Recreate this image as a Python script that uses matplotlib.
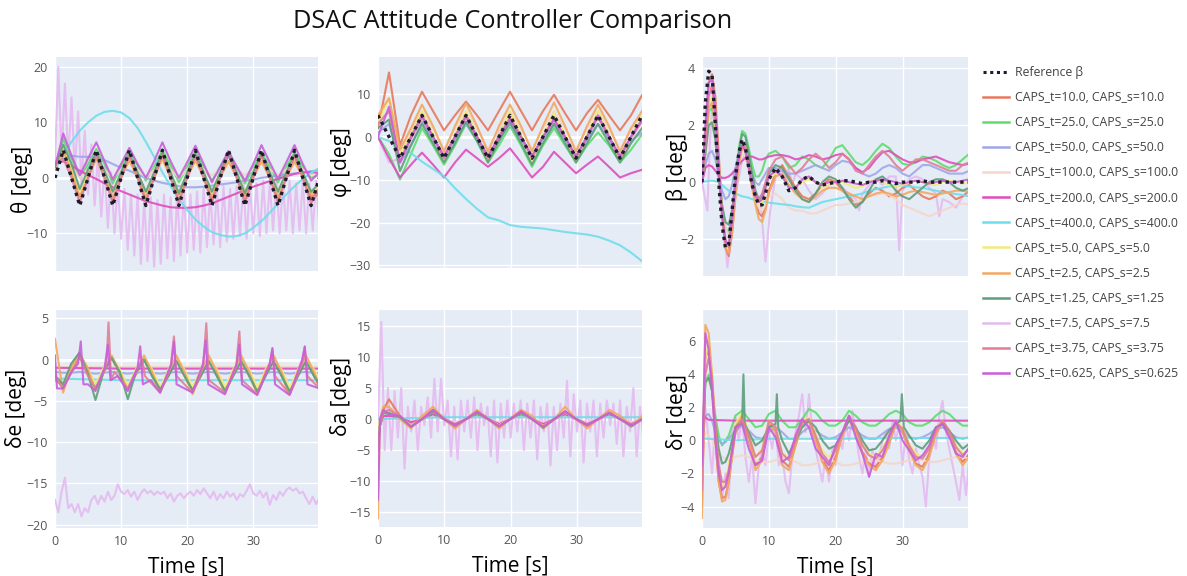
import numpy as np
import matplotlib
matplotlib.use("Agg")
import matplotlib.pyplot as plt
from matplotlib.lines import Line2D

plt.rcParams['font.family'] = ['Open Sans', 'DejaVu Sans']

# series names, legend text and colours
keys = ['c10', 'c25', 'c50', 'c100', 'c200', 'c400', 'c5', 'c2p5', 'c1p25', 'c7p5', 'c3p75', 'c0p625']
labels = ['CAPS_t=10.0, CAPS_s=10.0', 'CAPS_t=25.0, CAPS_s=25.0', 'CAPS_t=50.0, CAPS_s=50.0',
          'CAPS_t=100.0, CAPS_s=100.0', 'CAPS_t=200.0, CAPS_s=200.0', 'CAPS_t=400.0, CAPS_s=400.0',
          'CAPS_t=5.0, CAPS_s=5.0', 'CAPS_t=2.5, CAPS_s=2.5', 'CAPS_t=1.25, CAPS_s=1.25',
          'CAPS_t=7.5, CAPS_s=7.5', 'CAPS_t=3.75, CAPS_s=3.75', 'CAPS_t=0.625, CAPS_s=0.625']
colors = ['#E8785A', '#5EDC6E', '#9FA6E8', '#F5D6CA', '#E04CBC', '#6EDDEB',
          '#F3EA7A', '#F2A860', '#5E9E7C', '#E4BAF0', '#DF7F95', '#C85FD8']

# ---------------- theta ----------------
theta_t = np.arange(33) * 1.25
theta_ref = [0, 5, 0, -5, 0, 5, 0, -5, 0, 5, 0, -5, 0, 5, 0, -5, 0, 5, 0, -5, 0, 5, 0, -5, 0, 5, 0, -5, 0, 5, 0, -5, 0]
theta_c10 = [2, 5.5, 1, -3.5, 0.5, 4.5, 0.5, -4, 0.5, 4.2, 0.5, -4, 0.5, 4.5, 0.5, -4, 0.5, 4, 0.5, -4, 0.5, 4.8, 0.5, -4, 0.5, 4.2, 0.5, -4, 0.5, 4, 0.2, -3.5, -2.5]
theta_c25 = [2, 7, 3.5, 0, 2.5, 5.2, 2.5, -1, 2, 4.8, 2.2, -0.5, 2, 5, 2.2, -0.8, 2, 4.8, 2, -0.5, 2, 4.5, 2, -1, 1.8, 4.6, 2, -0.8, 2, 4.6, 2, 0, 0.5]
theta_c50 = [2.5, 4, 4, 3.8, 3.8, 3.7, 3.2, 2.5, 1.8, 1.3, 0.6, 0, -0.5, -0.9, -1.2, -1.5, -1.7, -1.7, -1.6, -1.4, -1.2, -1.0, -0.8, -0.5, -0.3, 0, 0.2, 0.4, 0.6, 0.8, 1.0, 1.2, 1.4]
theta_c100 = [2, 4, 2, 0, 1.5, 3, 1.5, 0, 1.5, 3, 1.5, 0, 1.5, 3, 1.5, 0, 1.5, 3, 1.5, 0.5, 1.5, 3, 1.5, 0.5, 1.5, 3, 1.5, 0.5, 1.5, 3, 1.5, 0.5, 0.5]
theta_c200 = [2.5, 3, 2.2, 1.3, 0.5, -0.2, -1, -1.7, -2.4, -3, -3.6, -4.2, -4.6, -5, -5.3, -5.4, -5.4, -5.3, -5, -4.6, -4, -3.4, -2.8, -2.2, -1.6, -1.1, -0.6, -0.2, 0.3, 0.7, 1.0, 1.0, 0.9]
theta_c400 = [1.5, 4, 6.5, 8.5, 10, 11.2, 11.9, 12.1, 11.8, 10.8, 9, 6.5, 3.8, 1, -1.5, -3.8, -5.8, -7.5, -8.8, -9.8, -10.3, -10.6, -10.5, -10, -9, -7.8, -6.3, -4.6, -3, -1.5, -0.2, 0.9, 1.8]
theta_c5 = [1.5, 5.5, 1.5, -2.5, 0.5, 3.5, 0.5, -2.5, 0.5, 3, 0.5, -2.5, 0.5, 3.2, 0.5, -2.5, 0.5, 3, 0.5, -2.5, 0.5, 2.8, 0.5, -2.5, 0.5, 2.8, 0.5, -2.5, 0.5, 2.8, 0.5, -2.5, -1.5]
theta_c2p5 = [1.5, 5, 1, -3.5, 0, 3.5, 0, -3.8, 0, 3.2, 0, -3.5, 0, 3.5, 0, -3.5, 0, 3.2, 0, -3.5, 0, 3, 0, -3.5, 0, 3, 0, -3.5, 0, 3, 0, -3, -2]
theta_c1p25 = [2, 6, 2.5, -2, 1.5, 4.5, 1.2, -2.5, 1, 4.2, 1, -2.5, 1, 4.5, 1, -2.8, 1, 4.2, 1, -2.5, 1, 4, 1, -2.8, 1, 4.2, 1, -2.5, 1, 4.2, 1, -2.5, -1]
theta_c3p75 = [2.5, 3.5, 0, -4.5, 0, 4, 0, -4.5, 0, 4, 0, -4.5, 0, 4.2, 0, -4.5, 0, 4, 0, -4.5, 0, 4.6, 0, -4.5, 0, 4, 0, -4.5, 0, 4, 0, -4.5, -2.5]
theta_c0p625 = [2, 8, 4, 0.5, 3.5, 6.4, 3, -0.3, 2.5, 5.4, 2.5, 0, 3, 6.4, 3, 0, 2.8, 5.8, 2.5, -0.8, 2, 4.8, 2, -0.5, 2.5, 5.9, 2.8, -0.2, 2.8, 5.9, 2.5, -0.5, 1]
theta_t75 = np.arange(81) * 0.5
theta_c7p5 = [3, 20, 4, 17, 3, 14.5, 1, 12, -1, 8.5,
              -3, 6, -5, 4, -7, 2, -9, 1, -10, -1,
              -11, -2, -13, -3, -14, -3, -15.5, -4, -15, -3.5,
              -16, -4, -15.5, -3, -14.5, -3.5, -15, -3, -14, -2.5,
              -13.5, -3, -13, -2.5, -13.5, -2, -12.5, -2.5, -12, -2,
              -12.5, -1.5, -11.5, -2, -11, -1.5, -10.5, -1, -11, -1.5,
              -10, -1, -10.5, -0.5, -10, -1, -9.5, -0.5, -10, -1,
              -9.5, -0.5, -10, -1, -9.5, -0.5, -10, -1, -9.5, -0.5,
              -9]

# ---------------- phi ----------------
phi_t = np.linspace(0, 39.8, 25)
phi_ref = [5, 0, -5, 0, 5, 0, -5, 0, 5, 0, -5, 0, 5, 0, -5, 0, 5, 0, -5, 0, 5, 0, -5, 0, 5]
phi_c10 = [2, 15, -2, 5, 10.5, 6, 1.5, 5, 8.2, 5, 1.5, 6, 10.5, 6, 1.5, 6, 9.8, 5.5, 1.5, 5.5, 8.6, 5, 1.5, 5, 9.7]
phi_c25 = [0, -4, -10, -4, 2, -2, -6.5, -2, 3, -1, -6, -2, 2.5, -2, -7, -2, 2, -2, -6, -2, 1, -2, -6, -3, 0.5]
phi_c50 = [1, 3, -6, -2, 3.5, -0.5, -5, -0.5, 3, -0.5, -5, -0.5, 3, -0.5, -5, -0.5, 3, -0.5, -5, -0.5, 3, -0.5, -5, -1, 1]
phi_c100 = [4, 6, -3, 1.5, 6, 2, -3, 2, 6, 2, -3, 2, 6, 2, -3, 2, 6, 2, -3, 2, 6, 2, -3, 1.5, 5]
phi_c200 = [0, -5, -9.5, -6.5, -3.7, -6.5, -9.5, -6, -3, -5, -7, -5, -2.7, -6, -9.5, -7, -3.5, -6, -8.5, -6.5, -4.6, -7, -9.5, -8.5, -7.7]
phi_c400 = [0, -1, -2.3, -3.8, -5.8, -7.5, -9.2, -12, -14.5, -16.8, -18.8, -19.5, -20.6, -21, -21.2, -21.4, -21.8, -22.2, -22.5, -22.8, -23.3, -24.2, -25.3, -27, -29]
phi_c5 = [3, 9, -4, 0.5, 6, 0.5, -6, 0.5, 6, 0.5, -6, 0.5, 6, 0.5, -6, 0.5, 5.5, 0.5, -6, 0.5, 6, 0.5, -6, 0, 5]
phi_c2p5 = [5, 9, -3, 2, 7.5, 2.5, -3.5, 2.5, 7.8, 2.5, -3.5, 2.5, 7.5, 2.5, -3.5, 2.5, 8, 2.5, -3.5, 2.5, 7.5, 2.5, -3.5, 2, 6]
phi_c1p25 = [2, 4, -8, -2, 3, -1.5, -6, -1.5, 3.5, -1, -6, -1, 3.5, -1.5, -6.5, -1.5, 3, -1.5, -6, -1.5, 3, -1.5, -6, -1.5, 2]
phi_c7p5 = [0, -6, -5, 0, 6, 0, -6, 0, 5.5, 0, -6, 1, 6, 0, -5, 0, 5, 0, -6, 0, 6, 0, -6, -1, 4]
phi_c3p75 = [3, 6, -6, -0.5, 4.5, 0, -5, 0, 4.5, 0, -5, 0, 4.5, 0, -5, 0, 4, 0, -5, 0, 4.5, 0, -5, 0, 3.5]
phi_c0p625 = [0, 7, -6, 0, 5, 0, -4.5, 0, 5, 0, -4.5, 0, 4, 0, -4.5, 0, 4, 0, -4.5, 0, 5, 0, -4.5, 0, 4]

# ---------------- beta ----------------
beta_t = [0, 0.5, 1, 1.5, 2, 2.5, 3, 3.5, 4, 4.5, 5, 5.5, 6, 6.5, 7, 7.5, 8, 8.5, 9, 9.5, 10] + list(range(11, 41))
beta_ref = [0, 2.8, 3.9, 3.8, 2, 0, -1.5, -2.3, -2.2, -1, 0.2, 1.0, 1.5, 1.2, 0.5, -0.1, -0.5, -0.8, -0.8, -0.4, 0.1,
            0.5, 0.2, -0.3, -0.2, 0.1, 0.2, 0, -0.1, -0.05, 0, 0.05, 0.05, 0, -0.05, 0, 0, 0.05, 0, -0.05, 0,
            0, 0, 0.05, 0, 0, 0, 0, 0, 0, 0]
beta_c10 = [0, 1.5, 3.5, 3.8, 3, 1, -1, -2.3, -2.6, -1.8, -0.5, 0.6, 1.3, 1.4, 0.8, 0, -0.6, -1.1, -1.2, -0.9, -0.3,
            0.3, 0.6, 0.2, -0.2, -0.5, -0.6, -0.4, -0.1, 0.1, 0, -0.3, -0.5, -0.8, -0.7, -0.4, -0.2, -0.3, -0.5, -0.4, -0.2,
            -0.1, -0.3, -0.5, -0.6, -0.5, -0.3, -0.4, -0.6, -0.5, -0.3]
beta_c25 = [0, 1, 2.5, 2.6, 2, 0.5, -0.8, -1.6, -1.8, -1.2, 0, 1.2, 1.8, 1.7, 1.2, 0.6, 0.2, 0.2, 0.4, 0.8, 1.0,
            1.1, 0.9, 0.5, 0.6, 0.9, 0.8, 0.6, 0.5, 0.8, 1.2, 1.3, 1.0, 0.7, 0.6, 0.8, 1.1, 1.35, 1.2, 0.9, 0.65,
            0.6, 0.7, 0.9, 0.85, 0.75, 0.6, 0.5, 0.6, 0.8, 1.0]
beta_c50 = [0, 0.6, 1.0, 1.1, 0.8, 0.2, -0.3, -0.6, -0.5, -0.1, 0.5, 1.0, 1.3, 1.1, 0.7, 0.3, 0, -0.1, 0.1, 0.3, 0.5,
            0.5, 0.4, 0.3, 0.3, 0.4, 0.5, 0.6, 0.5, 0.4, 0.6, 0.75, 0.7, 0.5, 0.3, 0.2, 0.3, 0.5, 0.6, 0.5, 0.3,
            0.2, 0.4, 0.6, 0.6, 0.5, 0.4, 0.3, 0.3, 0.3, 0.4]
beta_c100 = [0, 1.0, 2.0, 2.2, 1.5, 0.3, -0.8, -1.6, -1.9, -1.5, -0.5, 0.5, 1.0, 0.9, 0.4, -0.2, -0.6, -0.9, -1.0, -0.8, -0.5,
             -0.4, -0.6, -0.9, -1.0, -1.0, -1.1, -1.1, -1.0, -0.9, -0.8, -0.8, -0.75, -0.7, -0.6, -0.5, -0.45, -0.4, -0.45, -0.6, -0.8,
             -0.9, -1.0, -1.1, -1.2, -1.1, -1.0, -0.9, -0.8, -0.75, -0.8]
beta_c200 = [0, 0.5, 0.6, 0.55, 0.4, 0.25, 0.15, 0.15, 0.2, 0.3, 0.45, 0.6, 0.75, 0.85, 0.9, 0.9, 0.85, 0.8, 0.8, 0.85, 0.9,
             0.95, 0.95, 0.9, 0.8, 0.85, 0.95, 0.9, 0.8, 0.85, 0.95, 1.0, 0.8, 0.5, 0.35, 0.5, 0.8, 1.05, 1.1, 0.95, 0.8,
             0.7, 0.7, 0.8, 0.85, 0.9, 0.8, 0.7, 0.65, 0.6, 0.65]
beta_c400 = [0, 0.02, 0.04, 0.05, 0.03, 0, -0.1, -0.2, -0.3, -0.35, -0.4, -0.45, -0.5, -0.52, -0.55, -0.6, -0.62, -0.65, -0.68, -0.7, -0.72,
             -0.75, -0.78, -0.8, -0.85, -0.88, -0.9, -0.8, -0.7, -0.65, -0.6, -0.55, -0.5, -0.45, -0.4, -0.3, -0.25, -0.2, -0.15, -0.12, -0.12,
             -0.15, -0.18, -0.2, -0.25, -0.3, -0.35, -0.38, -0.42, -0.45, -0.5]
beta_c5 = [0, 1.2, 2.8, 3.0, 2.2, 0.5, -1, -2, -2.2, -1.5, -0.3, 0.8, 1.3, 1.2, 0.6, 0, -0.5, -0.8, -0.7, -0.3, 0.1,
           0.3, 0.2, -0.1, -0.2, 0, 0.1, 0, -0.2, -0.1, 0, 0, -0.1, -0.2, -0.15, 0, 0.1, 0, -0.1, -0.15, -0.1,
           0, 0.05, 0, -0.1, -0.1, 0, 0.05, 0, -0.05, 0]
beta_c2p5 = [0, 1.2, 2.6, 2.8, 2.0, 0.3, -1.2, -2.3, -2.5, -1.8, -0.5, 0.6, 1.2, 1.1, 0.5, -0.2, -0.8, -1.3, -1.4, -1.0, -0.4,
             0.2, 0.3, -0.1, -0.4, -0.6, -0.7, -0.5, -0.3, -0.2, -0.2, -0.3, -0.4, -0.5, -0.6, -0.5, -0.4, -0.35, -0.4, -0.5, -0.45,
             -0.35, -0.3, -0.35, -0.4, -0.45, -0.4, -0.35, -0.3, -0.3, -0.35]
beta_c1p25 = [0, 1.0, 2.0, 2.1, 1.5, 0.2, -0.8, -1.4, -1.5, -1.0, 0, 1.0, 1.7, 1.6, 1.0, 0.3, -0.3, -0.6, -0.5, -0.1, 0.3,
              0.6, 0.5, 0.1, -0.3, -0.6, -0.7, -0.4, 0, 0.2, 0.1, -0.2, -0.6, -0.9, -0.7, -0.3, 0.1, 0.2, 0, -0.3, -0.5,
              -0.6, -0.4, -0.2, 0, 0.1, 0.1, 0, -0.2, -0.3, -0.2]
beta_c3p75 = [0, 1.2, 3.0, 3.4, 2.5, 0.5, -1, -2, -2.3, -1.5, -0.2, 0.8, 1.3, 1.2, 0.6, 0, -0.4, -0.6, -0.4, 0, 0.4,
              0.8, 0.9, 0.6, 0.3, 0.5, 0.8, 1.0, 0.8, 0.5, 0.7, 1.0, 0.8, 0.4, 0.3, 0.6, 0.9, 1.1, 0.9, 0.6, 0.4,
              0.6, 0.8, 0.8, 0.7, 0.6, 0.5, 0.4, 0.4, 0.6, 0.7]
beta_c0p625 = [0, 2.0, 3.5, 3.6, 2.4, 0.5, -1.2, -2.1, -2.2, -1.2, 0, 0.9, 1.3, 1.1, 0.5, -0.1, -0.5, -0.7, -0.6, -0.2, 0.2,
               0.4, 0.2, -0.2, -0.2, 0.1, 0.2, 0, -0.1, 0, 0, 0.05, 0, -0.05, -0.1, 0, 0.05, 0.1, 0.05, 0, -0.05,
               0, 0.05, 0, -0.05, 0, 0.05, 0, 0, 0.05, 0.1]
beta_t75 = [0, 0.4, 0.8, 1.2, 1.6, 2, 2.5, 3, 3.5, 3.8, 4.2, 5, 6, 6.5, 7, 8, 8.8, 9.5, 10.2, 11, 12, 12.5, 13, 13.5, 14,
            15, 16, 17, 18, 19, 20, 21, 22, 23, 23.5, 24, 25, 26, 27, 28, 29, 29.5, 30, 31, 32, 33, 34, 35, 35.5, 36,
            37, 38, 39, 40]
beta_c7p5 = [0, -0.5, -1.0, 1.5, 3.0, 2.5, 0.8, -1.0, -2.2, -3.0, -2.2, -0.5, 0.8, 1.0, 0.6, -0.3, -0.8, -2.8, -1.0, 0.2,
             0.4, 0.1, 0.5, -0.1, 0.3, 0.1, -0.3, -0.6, -0.4, -0.1, 0, -0.2, -0.4, -0.6, -1.0, -0.4, -0.1, 0.1, -0.1, 0.2,
             0.2, -2.4, -0.3, 0.1, 0.2, 0.1, -0.2, -0.4, -1.2, -0.6, -0.7, -0.9, -0.5, -0.3]

# ---------------- delta e ----------------
de_t = np.arange(34) * 1.225
de_t_flat = [0, 10, 20, 30, 40.5]
de_c10 = [-2, -3.5, -1.5, 0.5, -1.5, -3.5, -1.5, 0.2, -1.8, -3.6, -1.8, 0, -2, -3.8, -2, 0, -2, -4, -2, 0, -2, -4, -2, 0, -2, -4.1, -2, 0, -2, -4.2, -2, 0, -2, -4]
de_c25 = [-2.5, -3.2, -1, 0.8, -1, -3.2, -1.2, 0.3, -1.5, -3.4, -1.5, 0, -1.8, -3.6, -1.8, 0, -1.8, -3.7, -1.8, -0.2, -1.8, -3.7, -1.8, -0.2, -1.8, -3.8, -1.8, -0.2, -1.8, -3.8, -1.8, -0.2, -1.8, -3.5]
de_c50 = [-1.5, -1.6, -1.6, -1.5, -1.6, -1.7, -1.6, -1.5, -1.6, -1.7, -1.6, -1.5, -1.6, -1.7, -1.6, -1.5, -1.6, -1.7, -1.6, -1.5, -1.6, -1.7, -1.6, -1.5, -1.6, -1.7, -1.6, -1.5, -1.6, -1.7, -1.6, -1.5, -1.6, -1.7]
de_c100 = [-0.9, -0.9, -0.9, -0.9, -0.9]
de_c200 = [-1.0, -1.1, -1.1, -1.1, -1.1]
de_c400 = [-2.3, -2.5, -2.5, -2.5, -2.5]
de_c5 = [-2, -3, -1, 0.5, -1, -3, -1, 0.2, -1.2, -3.2, -1.2, 0.2, -1.2, -3.3, -1.2, 0.2, -1.2, -3.3, -1.2, 0, -1.2, -3.3, -1.2, 0, -1.2, -3.4, -1.2, 0, -1.2, -3.4, -1.2, 0, -1.2, -3]
de_c2p5 = [2.5, -4, -1, 0.8, -1, -3.8, -1.5, 0.5, -1.5, -3.8, -1.5, 0.5, -1.5, -4, -1.5, 0.5, -1.5, -4.2, -1.5, 0.5, -1.5, -4.2, -1.5, 0.5, -1.5, -4.2, -1.5, 0.5, -1.5, -4.2, -1.5, 0.5, -1.5, -4]
de_c1p25 = [-2, -3, -0.5, 0.8, -1.5, -4.9, -1.5, 0.2, -1.5, -4.8, -1.5, 0, -2, -3.6, -2, -0.2, -2, -3.7, -2, -0.2, -2, -3.8, -2, -0.2, -2, -3.9, -2, -0.2, -2, -3.9, -2, -0.2, -2, -3.5]
de_t_c3p75 = [0, 1.2, 2.5, 3.7, 5, 6.1, 7.4, 7.8, 8.1, 8.5, 9, 11, 12.5, 13.2, 13.6, 15.9, 17.5, 18.0, 18.4, 20.8,
              22.4, 22.9, 23.3, 25.7, 27.4, 27.9, 28.3, 30.6, 32.5, 32.9, 33.3, 35.5, 37.4, 37.8, 38.2, 40]
de_c3p75 = [-2, -3.5, -1.5, 0.3, -2, -3.5, -1.5, -0.5, 4.5, -2.5, -1.5, -3.5, -1, 0, -2, -4, -1, 2.8, -2, -4,
            -1, 4.4, -2.5, -4, -1, 3.4, -2.5, -4.2, -0.5, 1.2, -2, -4.2, -0.5, 1.5, -2, -3.5]
de_t_c0p625 = [0, 0.3, 1.2, 2.5, 3.5, 3.9, 4.3, 5, 6.1, 7.5, 8.0, 8.4, 9.5, 11, 12.5, 12.9, 13.3, 14.5, 15.9, 17.6,
               18.0, 18.4, 20.8, 22.4, 22.8, 23.2, 25.7, 27.5, 27.9, 28.3, 30.6, 32.5, 32.9, 33.3, 35.5, 37.4, 37.8, 38.2, 40]
de_c0p625 = [0.5, -3.5, -3.5, -1.5, -0.5, 2.2, -3, -3, -3.8, -1, 1.8, -2.5, -2, -3.8, -1, 1.6, -3, -2.5, -4, -0.5,
             2.2, -3, -4, -0.5, 2.3, -3, -4.2, -0.5, 1.8, -3, -4.3, -0.5, 1.4, -3, -4.3, 0, 1.6, -3, -3.5]
de_t75 = np.arange(81) * 0.5
de_c7p5 = [-17, -18.5, -16, -14.3, -18, -17.5, -18.5, -17.5, -19, -18,
           -18.5, -17, -16.5, -17.5, -16.5, -17.2, -16, -17, -16.5, -15.1,
           -16, -16.3, -15.8, -16.6, -16, -17, -16.2, -15.7, -16.2, -15.9,
           -16.4, -16, -16.3, -16, -16.8, -16.2, -17.2, -16.5, -16.2, -16.8,
           -16.3, -16, -16.5, -15.8, -16.3, -15.6, -16.2, -16.8, -16, -17,
           -16.3, -16.8, -16, -16.6, -16.2, -17, -16.3, -16.6, -15.9, -15.1,
           -16.2, -16.5, -15.9, -16.7, -16.1, -17.6, -16.4, -17, -16, -16.5,
           -15.8, -15.5, -15.9, -15.6, -16.2, -16, -16.8, -17.5, -16.6, -17.5,
           -16.8]

# ---------------- delta a ----------------
da_t = [0, 0.3, 0.8, 1.66, 3.32, 4.98, 6.64, 8.3, 9.96, 11.62, 13.28, 14.94, 16.6, 18.26, 19.92,
        21.58, 23.24, 24.9, 26.56, 28.22, 29.88, 31.54, 33.2, 34.86, 36.52, 38.18, 39.84]
da_t_flat = [0, 10, 20, 30, 40]
da_c10 = [-4, -1, 1.5, 3.2, 0.5, -1.2, 0, 1.5, 0.2, -1, 0, 1.2, 0.2, -1, 0, 1.3, 0, -1.2, 0, 1.2, 0, -1.0, 0, 1.0, 0, -1, 0]
da_c25 = [-3, -1, 0.5, 0.8, 0.3, -0.8, 0, 0.8, 0, -0.8, 0, 0.8, 0, -0.8, 0, 0.8, 0, -0.9, 0, 0.8, 0, -0.8, 0, 0.8, 0, -0.8, 0]
da_c50 = [-2, -0.5, 0.5, 0.6, 0.3, -0.5, 0, 0.6, 0, -0.6, 0, 0.6, 0, -0.6, 0, 0.6, 0, -0.6, 0, 0.6, 0, -0.6, 0, 0.6, 0, -0.6, 0]
da_c100 = [-1, 0, 0.5, 0.5, 0.2, -0.4, 0, 0.5, 0, -0.5, 0, 0.5, 0, -0.5, 0, 0.5, 0, -0.5, 0, 0.5, 0, -0.5, 0, 0.5, 0, -0.5, 0]
da_c200 = [-3.5, -1, 0.5, 0.5, 0.3, -0.5, 0, 0.8, 0, -0.8, 0, 0.8, 0, -0.8, 0, 0.8, 0, -0.8, 0, 0.8, 0, -0.8, 0, 0.8, 0, -0.8, 0]
da_c400 = [0, 0.3, 0.3, 0.3, 0.3]
da_c5 = [-3, 0, 1, 1, 0.3, -1, 0, 1.2, 0, -1, 0, 1, 0, -1, 0, 1, 0, -1.1, 0, 1.1, 0, -1, 0, 1, 0, -1, 0]
da_c2p5 = [-16, 0, 2, 2, 0, -1.5, 0.5, 2, 0, -1.5, 0, 1.5, 0, -1.5, 0, 1.5, 0.5, -1.5, 0, 2, 0, -1.5, 0, 1.5, 0.5, -1, 0.5]
da_c1p25 = [-4, -1, 1, 1, 0.3, -1.2, 0, 1.2, 0, -1, 0, 1, 0, -1.2, 0, 1, 0, -1.4, 0, 1.2, 0, -1, 0, 1, 0, -1.2, 0]
da_c3p75 = [-5, -1, 1, 1.5, 0.5, -1.3, 0, 1.5, 0, -1.2, 0, 1.2, 0, -1.2, 0, 1.3, 0, -1.3, 0, 1.3, 0, -1.1, 0, 1.1, 0, -1.1, 0]
da_c0p625 = [-13, 0, 1.5, 0.8, 0.5, -1.2, 0, 1.5, 0, -1, 0, 1.2, 0, -1.1, 0, 1.2, 0, -1.2, 0, 1.2, 0, -1, 0, 1, 0, -1, 0]
da_t75 = np.arange(81) * 0.5
da_c7p5 = [0, 15.7, -5, 5, -5, 4.5, -3, 5, -8, 2,
           -2, 3, -5, 2, -1, 3.5, -3, 6.5, -2, 6.5,
           -1, 3, -6, 2, -6.5, 3, -2, 3, -3, 3.5,
           -5, 2.5, -1, 2, -6, 3, -7, 2.5, -3, 3,
           -3, 2.5, -2, 3, -5, 2.5, -3, 3, -6.5, 2,
           -2, 2.5, -7.5, 2, -5, 2.5, -3, 6.2, -6, 4,
           -2, 3, -7, 2.5, -2, 3, -6, 2.5, -3, 3,
           -1, 2.5, -4, 3, -6, 2, -2, 5, -6, 2,
           -3]

# ---------------- delta r ----------------
dr_t = [0, 0.5, 1, 1.5, 2, 2.5, 3, 3.5, 4] + list(range(5, 41))
dr_t_flat = [0, 0.5, 1, 5, 10, 20, 30, 40]
dr_c10 = [-4, 5, 5.5, 3.5, 0, -2.5, -3.5, -3.4, -2.5, 0.5, 1.2, 0, -1.5, -1.0, 1.0, 0.6, -1.2, -1.6, -0.3, 1.0, 1.2, 0, -1.2, -1.8,
          -1, 0.3, 1.3, 0.5, -0.7, -1.4, -1.6, -1.0, -0.1, 1.0, 0.5, -0.5, -1.4, -1.6, -0.8, 0.4, 1.1, 0.4, -0.7, -1.3, -0.8]
dr_c25 = [0, 3.5, 4, 3, 1.5, 0.3, -0.3, 0, 0.3, 1.5, 1.8, 1.3, 0.8, 0.9, 1.6, 1.8, 1.2, 0.8, 0.8, 1.3, 1.9, 1.7, 1.2, 0.9,
          0.9, 1.2, 1.8, 1.5, 1.1, 0.9, 0.9, 1.2, 1.6, 1.8, 1.6, 1.1, 0.9, 0.9, 1.1, 1.5, 1.8, 1.6, 1.2, 0.9, 0.9]
dr_c50 = [0, 1.5, 1.6, 1.2, 0.5, 0, -0.2, -0.1, 0.1, 0.6, 0.9, 0.6, 0.2, 0.1, 0.5, 0.8, 0.5, 0.1, 0.1, 0.5, 0.8, 0.6, 0.3, 0.1,
          0.2, 0.5, 0.8, 0.6, 0.3, 0.1, 0.1, 0.4, 0.7, 0.8, 0.5, 0.2, 0.1, 0.2, 0.4, 0.7, 0.8, 0.5, 0.2, 0.1, 0.2]
dr_c100 = [-0.5, 0.5, 0.3, 0, -0.5, -0.8, -1.0, -1.1, -1.2, -1.0, -0.9, -1.0, -1.2, -1.3, -1.3, -1.2, -1.1, -1.1, -1.3, -1.5, -1.5, -1.4, -1.2, -1.2,
           -1.3, -1.5, -1.5, -1.4, -1.3, -1.2, -1.2, -1.3, -1.4, -1.4, -1.3, -1.2, -1.1, -1.2, -1.3, -1.3, -1.2, -1.1, -1.0, -1.0, -1.1]
dr_c200 = [1.3, 1.4, 1.25, 1.2, 1.2, 1.2, 1.2, 1.2]
dr_c400 = [0.2, 0.1, 0.1, 0, 0.1, 0.1, 0.15, 0.15]
dr_c5 = [-2, 5, 6, 4, 1, -1.5, -2.8, -2.6, -1.5, 1, 1.7, 0.5, -1.0, -0.5, 1.2, 0.8, -0.8, -1.0, 0.2, 1.2, 1.4, 0.4, -0.6, -1.0,
         -0.5, 0.5, 1.4, 0.8, -0.2, -0.8, -1.0, -0.5, 0.3, 1.2, 0.8, -0.2, -0.8, -1.0, -0.4, 0.6, 1.2, 0.6, -0.3, -0.8, -0.5]
dr_c2p5 = [-4.7, 7.0, 6.5, 4, 0, -2.5, -3.7, -3.6, -2.5, 0.8, 1.5, 0.2, -1.8, -1.2, 1.0, 0.5, -1.5, -1.8, -0.3, 1.0, 1.2, 0, -1.3, -2.0,
           -1.2, 0.3, 1.3, 0.5, -0.8, -1.5, -1.8, -1.2, -0.2, 1.0, 0.6, -0.6, -1.5, -1.8, -1.0, 0.4, 1.2, 0.5, -0.8, -1.5, -1.0]
dr_t_c1p25 = [0, 0.5, 1, 1.5, 2, 2.5, 3, 3.5, 4, 5, 6, 6.2, 6.4, 7, 8, 9, 10, 11, 11.2, 11.4, 12, 13, 14, 15, 16,
              17, 18, 19, 20, 21, 22, 23, 24, 25, 26, 27, 28, 29, 29.7, 29.9, 30.2, 31, 32, 33, 34, 35, 36, 37, 38, 39, 40]
dr_c1p25 = [-1, 3.5, 3.8, 3, 1, -0.5, -1.4, -1.3, -0.8, 0.8, 1.2, 4.0, 1.0, 0.5, -0.3, 0, 0.8, 1.0, 2.8, 0.8, 0, -0.8, 0, 0.8, 1.2,
            0.8, 0, -0.5, -0.3, 0.5, 1.2, 0.8, 0, -0.6, -0.5, 0, 0.6, 1.0, 1.2, 2.8, 0.8, 0.3, -0.3, -0.5, 0, 0.8, 1.0, 0.6, 0, -0.5, -0.2]
dr_c3p75 = [-3, 4, 5, 3.8, 1, -1.5, -2.5, -2.5, -1.8, 0.5, 1.3, 0.3, -1.0, -0.6, 1.2, 0.8, -0.8, -1.2, 0, 1.1, 1.3, 0.3, -0.8, -1.3,
            -0.6, 0.5, 1.5, 0.8, -0.3, -0.9, -1.1, -0.6, 0.2, 1.1, 0.7, -0.3, -1.0, -1.1, -0.5, 0.6, 1.2, 0.6, -0.4, -0.9, -0.5]
dr_c0p625 = [-1.5, 6.5, 5.5, 3, 0, -2, -3, -2.8, -2.0, 0.8, 1.0, -0.5, -1.5, -1.2, 0.8, 0.2, -1.3, -1.0, 0.3, 1.3, 0.8, -0.5, -1.0, -1.5,
             -0.3, 0.5, 1.5, 0.2, -0.8, -2.2, -0.8, -1.0, 0.3, 1.2, 0.0, -0.6, -1.2, -0.9, -0.3, 0.8, 1.0, 0.2, -0.8, -1.0, -0.4]
dr_t75 = np.arange(81) * 0.5
dr_c7p5 = [0, 2, 0, -2, 1, -1, -3.5, -2, -3.5, 0.5,
           1.5, 0, 1.5, -1, -2.5, -1, -3.8, -1.5, -0.5, -1.5,
           0.5, -0.5, 1.0, -1.5, -1.0, -2.5, -3.2, -1, 0.5, 1.5,
           2.8, 0.5, 2.8, 0.5, -0.5, -1.5, -2.5, -1, -2.5, -0.5,
           -1.5, 0, -0.5, 1.0, 0, 1.8, 0.5, -1, -2, -0.5,
           -2.2, -0.5, -1.8, -1, 0, 0.5, -0.5, 1.2, 0, 1,
           -1.5, 0.5, -1.2, -2, -0.5, -1.5, -2.2, -4, -1, 0.5,
           -0.5, 1.5, 2.4, 0.5, -0.5, -1.5, -2.5, -3.6, -1.5, -3.3,
           -1]

# ---------------- assemble panels ----------------
theta = {'c10': (theta_t, theta_c10), 'c25': (theta_t, theta_c25), 'c50': (theta_t, theta_c50),
         'c100': (theta_t, theta_c100), 'c200': (theta_t, theta_c200), 'c400': (theta_t, theta_c400),
         'c5': (theta_t, theta_c5), 'c2p5': (theta_t, theta_c2p5), 'c1p25': (theta_t, theta_c1p25),
         'c7p5': (theta_t75, theta_c7p5), 'c3p75': (theta_t, theta_c3p75), 'c0p625': (theta_t, theta_c0p625)}
phi = {k: (phi_t, v) for k, v in zip(keys, [phi_c10, phi_c25, phi_c50, phi_c100, phi_c200, phi_c400,
                                           phi_c5, phi_c2p5, phi_c1p25, phi_c7p5, phi_c3p75, phi_c0p625])}
beta = {k: (beta_t, v) for k, v in zip(keys, [beta_c10, beta_c25, beta_c50, beta_c100, beta_c200, beta_c400,
                                             beta_c5, beta_c2p5, beta_c1p25, beta_c7p5, beta_c3p75, beta_c0p625])}
beta['c7p5'] = (beta_t75, beta_c7p5)
de = {'c10': (de_t, de_c10), 'c25': (de_t, de_c25), 'c50': (de_t, de_c50),
      'c100': (de_t_flat, de_c100), 'c200': (de_t_flat, de_c200), 'c400': (de_t_flat, de_c400),
      'c5': (de_t, de_c5), 'c2p5': (de_t, de_c2p5), 'c1p25': (de_t, de_c1p25),
      'c7p5': (de_t75, de_c7p5), 'c3p75': (de_t_c3p75, de_c3p75), 'c0p625': (de_t_c0p625, de_c0p625)}
da = {k: (da_t, v) for k, v in zip(keys, [da_c10, da_c25, da_c50, da_c100, da_c200, da_c400,
                                         da_c5, da_c2p5, da_c1p25, da_c7p5, da_c3p75, da_c0p625])}
da['c400'] = (da_t_flat, da_c400)
da['c7p5'] = (da_t75, da_c7p5)
dr = {k: (dr_t, v) for k, v in zip(keys, [dr_c10, dr_c25, dr_c50, dr_c100, dr_c200, dr_c400,
                                         dr_c5, dr_c2p5, dr_c1p25, dr_c7p5, dr_c3p75, dr_c0p625])}
dr['c200'] = (dr_t_flat, dr_c200)
dr['c400'] = (dr_t_flat, dr_c400)
dr['c1p25'] = (dr_t_c1p25, dr_c1p25)
dr['c7p5'] = (dr_t75, dr_c7p5)

fig = plt.figure(figsize=(11.87, 5.76), dpi=100)
W, H = 1187, 576


def add_ax(l, t, r, b):
    return fig.add_axes([l / W, 1 - b / H, (r - l) / W, (b - t) / H])


def draw(ax, data, ref_t, ref, ylim, yticks, ylabel, label_xy, bottom):
    ax.set_facecolor('#E5ECF6')
    for s in ax.spines.values():
        s.set_visible(False)
    ax.set_axisbelow(True)
    ax.grid(True, color='white', lw=1)
    ax.axhline(0, color='white', lw=2, zorder=0.6)
    for key, col in zip(keys, colors):
        t, y = data[key]
        z = 1.5 if key == 'c7p5' else 2
        ax.plot(t, y, color=col, lw=1.5, alpha=0.9, zorder=z)
    if ref is not None:
        ax.plot(ref_t, ref, color='#1c1c2c', lw=2.4, ls=(0, (1, 1.2)), zorder=3)
    ax.set_xlim(0, 39.8)
    ax.set_ylim(*ylim)
    ax.set_xticks([0, 10, 20, 30])
    ax.set_yticks(yticks)
    ax.tick_params(length=0, labelsize=9, labelcolor='#555555', pad=5)
    if bottom:
        ax.set_xlabel('Time [s]', fontsize=15, labelpad=6)
    else:
        ax.tick_params(labelbottom=False)
    ax.set_ylabel(ylabel, fontsize=15)
    ax.yaxis.set_label_coords(*label_xy)


ax1 = add_ax(55, 57, 318, 271)
draw(ax1, theta, theta_t, theta_ref, (-16.8, 21.8), [-10, 0, 10, 20], 'θ [deg]', (-0.085, 0.43), False)
ax2 = add_ax(378, 57, 642, 268)
draw(ax2, phi, phi_t, phi_ref, (-30.6, 18.6), [-30, -20, -10, 0, 10], 'φ [deg]', (-0.1, 0.5), False)
ax3 = add_ax(702, 57, 968, 276)
draw(ax3, beta, beta_t, beta_ref, (-3.3, 4.4), [-2, 0, 2, 4], 'β [deg]', (-0.053, 0.5), False)
ax4 = add_ax(55, 310, 318, 528)
draw(ax4, de, None, None, (-20.4, 6.0), [-20, -15, -10, -5, 0, 5], 'δe [deg]', (-0.105, 0.55), True)
ax5 = add_ax(378, 310, 642, 527)
draw(ax5, da, None, None, (-17.4, 17.6), [-15, -10, -5, 0, 5, 10, 15], 'δa [deg]', (-0.1, 0.6), True)
ax6 = add_ax(702, 310, 968, 528)
draw(ax6, dr, None, None, (-5.3, 7.9), [-4, -2, 0, 2, 4, 6], 'δr [deg]', (-0.053, 0.53), True)

fig.text(513 / W, 1 - 22 / H, 'DSAC Attitude Controller Comparison', fontsize=18.2,
         ha='center', va='center', color='#111111')

handles = [Line2D([], [], color='#1c1c2c', lw=2.2, ls=(0, (1, 1.2)))]
handles += [Line2D([], [], color=c, lw=1.8) for c in colors]
fig.legend(handles, ['Reference β'] + labels, loc='upper left', bbox_to_anchor=(983 / W, 1 - 66 / H),
           frameon=False, fontsize=8.8, handlelength=2.1, handletextpad=0.55, labelspacing=0.99,
           borderpad=0, borderaxespad=0, labelcolor='#444444')

fig.savefig('out.png', dpi=100)
